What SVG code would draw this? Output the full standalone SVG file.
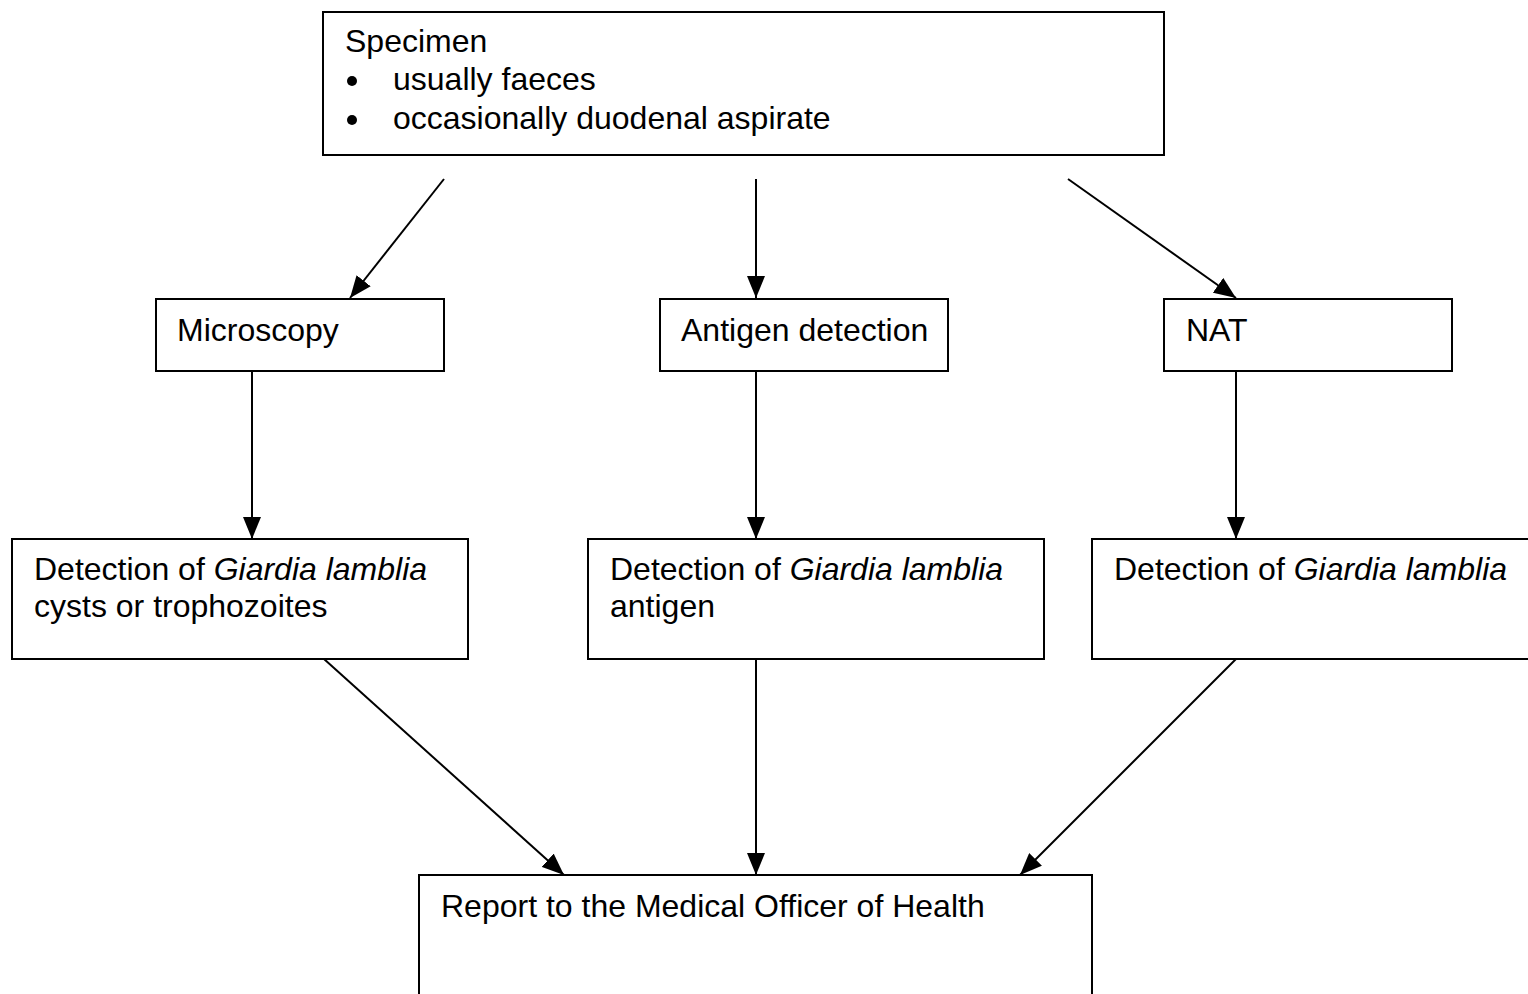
<svg xmlns="http://www.w3.org/2000/svg" width="1528" height="994" viewBox="0 0 1528 994">
<style>
.box{fill:#fff;stroke:#000;stroke-width:2}
.t{font-family:"Liberation Sans",Arial,sans-serif;font-size:32px;fill:#000}
.c{stroke:#000;stroke-width:2;fill:none;marker-end:url(#ah)}
</style>
<defs>
<marker id="ah" viewBox="0 0 22 18" refX="22" refY="9" markerWidth="22" markerHeight="18" markerUnits="userSpaceOnUse" orient="auto">
<path d="M0,0 L22,9 L0,18 z" fill="#000"/>
</marker>
</defs>
<rect width="1528" height="994" fill="#fff"/>
<g id="connectors">
<line class="c" x1="444" y1="179" x2="350" y2="298"/>
<line class="c" x1="756" y1="179" x2="756" y2="298"/>
<line class="c" x1="1068" y1="179" x2="1236" y2="298"/>
<line class="c" x1="252" y1="371" x2="252" y2="539"/>
<line class="c" x1="756" y1="371" x2="756" y2="539"/>
<line class="c" x1="1236" y1="371" x2="1236" y2="539"/>
<line class="c" x1="324" y1="659" x2="564" y2="875"/>
<line class="c" x1="756" y1="659" x2="756" y2="875"/>
<line class="c" x1="1236" y1="659" x2="1020" y2="875"/>
</g>
<g id="specimen">
<rect class="box" x="323" y="12" width="841" height="143"/>
<text class="t" x="345" y="52">Specimen</text>
<circle cx="352" cy="81" r="5"/>
<text class="t" x="393" y="90">usually faeces</text>
<circle cx="352" cy="120" r="5"/>
<text class="t" x="393" y="129">occasionally duodenal aspirate</text>
</g>
<g id="microscopy">
<rect class="box" x="156" y="299" width="288" height="72"/>
<text class="t" x="177" y="341">Microscopy</text>
</g>
<g id="antigen">
<rect class="box" x="660" y="299" width="288" height="72"/>
<text class="t" x="681" y="341">Antigen detection</text>
</g>
<g id="nat">
<rect class="box" x="1164" y="299" width="288" height="72"/>
<text class="t" x="1186" y="341">NAT</text>
</g>
<g id="det-micro">
<rect class="box" x="12" y="539" width="456" height="120"/>
<text class="t" x="34" y="580">Detection of <tspan font-style="italic">Giardia lamblia</tspan></text>
<text class="t" x="34" y="617">cysts or trophozoites</text>
</g>
<g id="det-antigen">
<rect class="box" x="588" y="539" width="456" height="120"/>
<text class="t" x="610" y="580">Detection of <tspan font-style="italic">Giardia lamblia</tspan></text>
<text class="t" x="610" y="617">antigen</text>
</g>
<g id="det-nat">
<rect class="box" x="1092" y="539" width="456" height="120"/>
<text class="t" x="1114" y="580">Detection of <tspan font-style="italic">Giardia lamblia</tspan></text>
</g>
<g id="report">
<rect class="box" x="419" y="875" width="673" height="140"/>
<text class="t" x="441" y="917">Report to the Medical Officer of Health</text>
</g>
</svg>
